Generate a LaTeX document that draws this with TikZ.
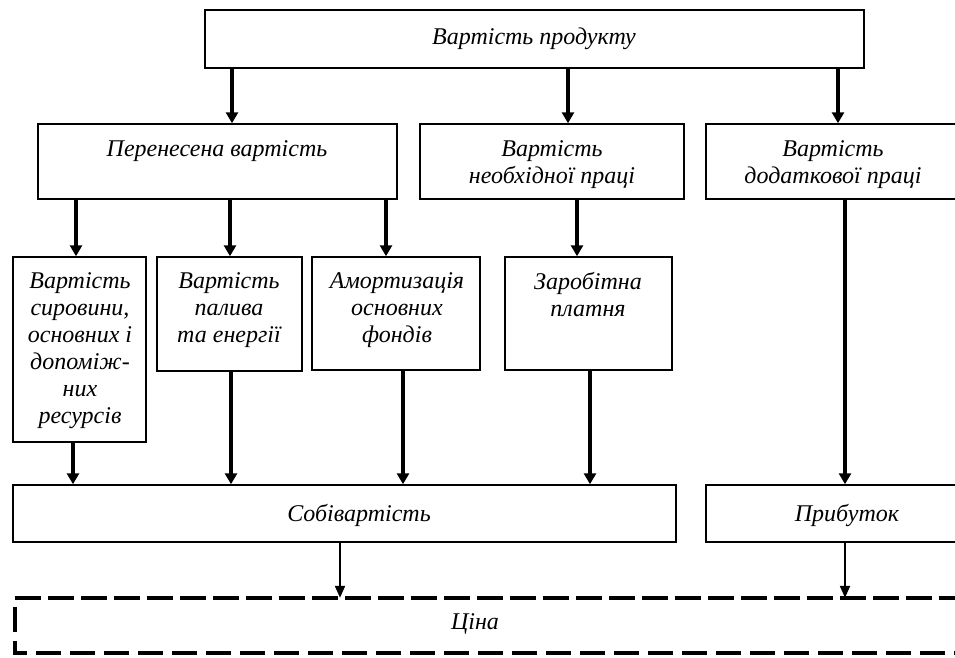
\documentclass[tikz,border=0pt]{standalone}
\usepackage{fontspec}
\setmainfont{Liberation Serif}
\usetikzlibrary{arrows.meta}
\begin{document}
\begin{tikzpicture}[x=1pt,y=-1pt,
  box/.style={draw, line width=1.5pt, inner sep=0pt},
  lbl/.style={font=\fontsize{24}{27}\selectfont\itshape, align=center, inner sep=0pt, anchor=north},
  arr/.style={line width=3.2pt, -{Triangle[length=11pt,width=12pt]}},
  thinarr/.style={line width=2pt, -{Triangle[length=12pt,width=10pt]}},
  dashline/.style={line width=4pt},
]
\useasboundingbox (0,0) rectangle (955,657);
\begin{scope}
\clip (0,0) rectangle (955,657);

% boxes
\node[box, minimum width=659pt, minimum height=58pt] (top) at (534.5,39) {};
\node[box, minimum width=359pt, minimum height=75pt] (pv) at (217.5,161.5) {};
\node[box, minimum width=264pt, minimum height=75pt] (nec) at (552,161.5) {};
\node[box, minimum width=254pt, minimum height=75pt] (add) at (833,161.5) {};
\node[box, minimum width=133pt, minimum height=185pt] (b1) at (79.5,349.5) {};
\node[box, minimum width=145pt, minimum height=114pt] (b2) at (229.5,314) {};
\node[box, minimum width=168pt, minimum height=113pt] (b3) at (396,313.5) {};
\node[box, minimum width=167pt, minimum height=113pt] (b4) at (588.5,313.5) {};
\node[box, minimum width=663pt, minimum height=57pt] (sob) at (344.5,513.5) {};
\node[box, minimum width=282pt, minimum height=57pt] (prib) at (847,513.5) {};
\node[inner sep=0pt, minimum width=985pt, minimum height=55pt] (price) at (507.5,625.5) {};

% dashed outline of the price box
\draw[dashline, dash pattern=on 26pt off 7pt] (price.north west) -- (price.north east);
\draw[dashline, dash pattern=on 25pt off 9pt, dash phase=25pt]
  (price.north west) -- (price.south west) -- (price.south east);

% labels
\node[lbl] (ttop) at (534,28) {Вартість продукту};
\node[lbl] (tpv) at (217,140) {Перенесена вартість};
\node[lbl] (tnec) at (552,140) {Вартість\\необхідної праці};
\node[lbl] (tadd) at (833,140) {Вартість\\додаткової праці};
\node[lbl] (tb1) at (80,272) {Вартість\\сировини,\\основних і\\допоміж-\\них\\ресурсів};
\node[lbl] (tb2) at (229,272) {Вартість\\палива\\та енергії};
\node[lbl] (tb3) at (397,272) {Амортизація\\основних\\фондів};
\node[lbl] (tb4) at (588,272) {Заробітна\\платня};
\node[lbl] (tsob) at (359,504) {Собівартість};
\node[lbl] (tprib) at (847,504) {Прибуток};
\node[lbl] (tprice) at (475,613) {Ціна};

% connectors
\draw[arr] (232,0 |- top.south) -- (232,0 |- pv.north);
\draw[arr] (568,0 |- top.south) -- (568,0 |- nec.north);
\draw[arr] (838,0 |- top.south) -- (838,0 |- add.north);
\draw[arr] (76,0 |- pv.south) -- (76,0 |- b1.north);
\draw[arr] (230,0 |- pv.south) -- (230,0 |- b2.north);
\draw[arr] (386,0 |- pv.south) -- (386,0 |- b3.north);
\draw[arr] (577,0 |- nec.south) -- (577,0 |- b4.north);
\draw[arr] (73,0 |- b1.south) -- (73,0 |- sob.north);
\draw[arr] (231,0 |- b2.south) -- (231,0 |- sob.north);
\draw[arr] (403,0 |- b3.south) -- (403,0 |- sob.north);
\draw[arr] (590,0 |- b4.south) -- (590,0 |- sob.north);
\draw[arr] (845,0 |- add.south) -- (845,0 |- prib.north);
\draw[thinarr] (340,0 |- sob.south) -- (340,0 |- price.north);
\draw[thinarr] (845,0 |- prib.south) -- (845,0 |- price.north);
\end{scope}
\end{tikzpicture}
\end{document}
